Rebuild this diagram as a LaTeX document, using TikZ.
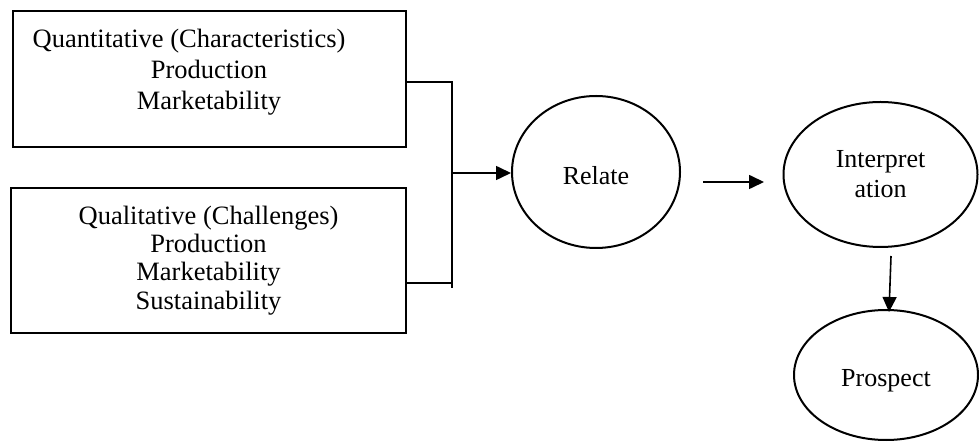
\documentclass[tikz,border=0pt]{standalone}
\usepackage{fontspec}
\setmainfont{Liberation Serif}
\usetikzlibrary{shapes.geometric,arrows.meta}
\begin{document}
\begin{tikzpicture}[x=1pt,y=1pt,
  txt/.style={font=\fontsize{26.5}{31}\selectfont, align=center, inner sep=0pt},
  boxnode/.style={draw, line width=1.2pt, inner sep=0pt},
  ellnode/.style={draw, ellipse, line width=2pt, inner sep=0pt, font=\fontsize{26}{30}\selectfont, align=center},
  conn/.style={line width=1.2pt},
  arr/.style={line width=1.6pt, -{Triangle[length=15pt,width=14pt]}}]
\useasboundingbox (0,0) rectangle (979,444);
% boxes
\node[boxnode, minimum width=393pt, minimum height=136pt] (q1) at (209.5,365) {};
\node[txt] (q1t) at (209,372) {Quantitative (Characteristics)\kern40pt\\Production\\Marketability};
\node[boxnode, minimum width=395pt, minimum height=145pt, font=\fontsize{26.5}{28.3}\selectfont, align=center] (q2) at (208.5,183.5) {Qualitative (Challenges)\\Production\\Marketability\\Sustainability};
% ellipses
\node[ellnode, minimum width=168pt, minimum height=152pt, text height=26pt, text depth=0pt] (rel) at (596,272) {Relate};
\node[ellnode, minimum width=194pt, minimum height=145pt] (int) at (880.5,269.5) {Interpret\\ation};
\node[ellnode, minimum width=184pt, minimum height=130pt, text height=30pt, text depth=6pt] (pro) at (886,69) {Prospect};
% bracket connector
\coordinate (j) at (452,271);
\draw[conn] ([yshift=-3pt]q1.east) -- ([yshift=-3pt]q1.east -| j) -- ++(0,-206);
\draw[conn] ([yshift=-22.5pt]q2.east) -- ([yshift=-22.5pt]q2.east -| j);
\draw[arr] (j) -- (j -| rel.west);
\draw[arr] (rel.east) ++(22,-10) -- ++(61,0);
\draw[arr] ([shift={(10.5,-8)}]int.south) -- ([shift={(3,-3)}]pro.north);
\end{tikzpicture}
\end{document}
